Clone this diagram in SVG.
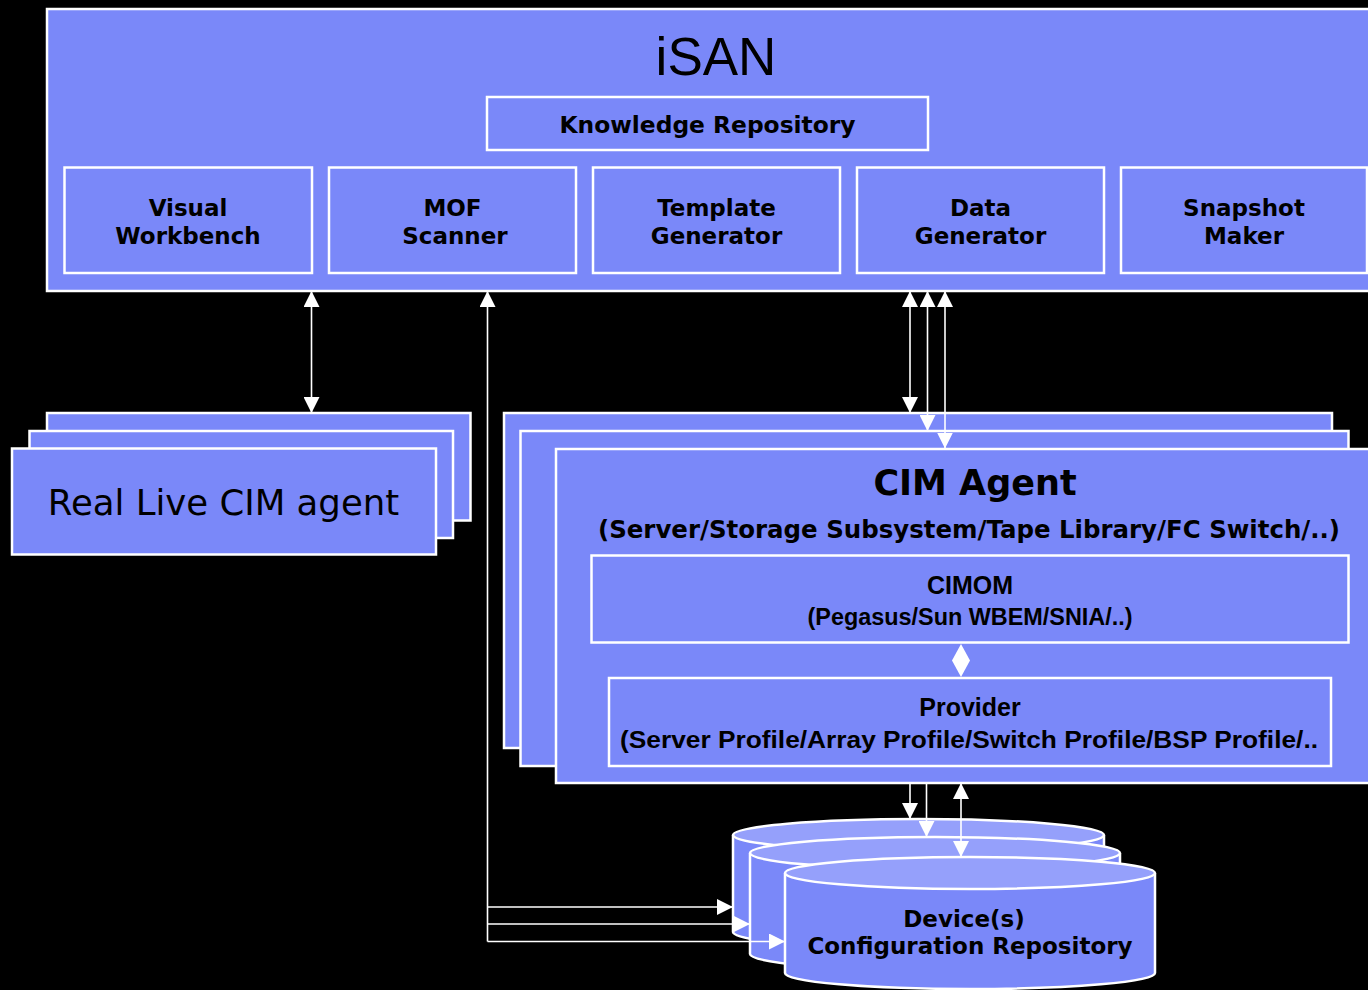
<svg xmlns="http://www.w3.org/2000/svg" width="1368" height="990" viewBox="0 0 1368 990">
<defs>
<style>
.box{fill:#7A88F9;stroke:#fff;stroke-width:2.5}
.cyl{fill:#7A88F9;stroke:#fff;stroke-width:2.5}
.cyltop{fill:#95A0FB;stroke:#fff;stroke-width:2.5}
.v{font-family:"DejaVu Sans",Verdana,sans-serif;font-weight:bold;fill:#000;text-anchor:middle}
.a{font-family:"Liberation Sans",Arial,sans-serif;font-weight:bold;fill:#000;text-anchor:middle}
.c{fill:none;stroke:#fff;stroke-width:1.6}
</style>
<marker id="ah" viewBox="0 0 16 16" refX="16" refY="8" markerWidth="16" markerHeight="16" markerUnits="userSpaceOnUse" orient="auto-start-reverse"><path d="M0,0 L16,8 L0,16 z" fill="#fff"/></marker>
</defs>
<rect x="0" y="0" width="1368" height="990" fill="#000"/>

<g id="isan">
<rect class="box" x="47" y="9" width="1330" height="282"/>
<text x="716" y="75" font-family="Liberation Sans, Arial, sans-serif" font-size="53" text-anchor="middle" fill="#000">iSAN</text>
</g>
<g id="knowledge-repository">
<rect class="box" x="487" y="97" width="441" height="53"/>
<text class="v" x="707.5" y="133" font-size="23" textLength="296" lengthAdjust="spacingAndGlyphs">Knowledge Repository</text>
</g>
<g id="visual-workbench">
<rect class="box" x="64.5" y="167.5" width="247.5" height="105.5"/>
<text class="v" x="188" y="216" font-size="23">Visual</text>
<text class="v" x="188" y="244" font-size="23">Workbench</text>
</g>
<g id="mof-scanner">
<rect class="box" x="329" y="167.5" width="247" height="105.5"/>
<text class="v" x="452.5" y="216" font-size="23">MOF</text>
<text class="v" x="455" y="244" font-size="23">Scanner</text>
</g>
<g id="template-generator">
<rect class="box" x="593" y="167.5" width="247" height="105.5"/>
<text class="v" x="716.5" y="216" font-size="23">Template</text>
<text class="v" x="716.5" y="244" font-size="23">Generator</text>
</g>
<g id="data-generator">
<rect class="box" x="857" y="167.5" width="247" height="105.5"/>
<text class="v" x="980.5" y="216" font-size="23">Data</text>
<text class="v" x="980.5" y="244" font-size="23">Generator</text>
</g>
<g id="snapshot-maker">
<rect class="box" x="1121" y="167.5" width="246" height="105.5"/>
<text class="v" x="1244" y="216" font-size="23">Snapshot</text>
<text class="v" x="1244" y="244" font-size="23">Maker</text>
</g>

<g id="real-live-cim-agent">
<rect class="box" x="47" y="413" width="423.5" height="107.5"/>
<rect class="box" x="29.5" y="431" width="423.5" height="107"/>
<rect class="box" x="12" y="448.5" width="424" height="106"/>
<text x="223.5" y="515" font-family="DejaVu Sans, Verdana, sans-serif" font-size="35.5" text-anchor="middle" fill="#000">Real Live CIM agent</text>
</g>

<g id="cim-agent">
<rect class="box" x="504" y="413" width="828" height="335"/>
<rect class="box" x="520.5" y="431" width="828" height="335"/>
<rect class="box" x="556" y="449" width="820" height="334" stroke-width="3"/>
<text class="v" x="975" y="495" font-size="35">CIM Agent</text>
<text class="v" x="969" y="538" font-size="24" textLength="742" lengthAdjust="spacingAndGlyphs">(Server/Storage Subsystem/Tape Library/FC Switch/..)</text>
</g>
<g id="cimom">
<rect class="box" x="591.5" y="555.5" width="757" height="87"/>
<text class="a" x="970" y="594" font-size="25">CIMOM</text>
<text class="a" x="970" y="625" font-size="23" textLength="325" lengthAdjust="spacingAndGlyphs">(Pegasus/Sun WBEM/SNIA/..)</text>
</g>
<g id="provider">
<rect class="box" x="609" y="678" width="722" height="88"/>
<text class="a" x="970" y="716" font-size="25">Provider</text>
<text class="a" x="969" y="748" font-size="24" textLength="698" lengthAdjust="spacingAndGlyphs">(Server Profile/Array Profile/Switch Profile/BSP Profile/..</text>
</g>

<g id="config-repository">
<path class="cyl" d="M733,835 V932 A185.5,16 0 0 0 1104,932 V835"/>
<ellipse class="cyltop" cx="918.5" cy="835" rx="185.5" ry="16"/>
<path class="cyl" d="M750,853 V954 A185,16 0 0 0 1120,954 V853"/>
<ellipse class="cyltop" cx="935" cy="853" rx="185" ry="16"/>
<path class="cyl" d="M785,873 V973 A185,16 0 0 0 1155,973 V873"/>
<ellipse class="cyltop" cx="970" cy="873" rx="185" ry="16"/>
<text class="v" x="964" y="927" font-size="23">Device(s)</text>
<text class="v" x="970" y="954" font-size="23">Configuration Repository</text>
</g>

<g id="connectors">
<line class="c" x1="311.5" y1="291" x2="311.5" y2="413" marker-start="url(#ah)" marker-end="url(#ah)"/>
<line class="c" x1="910" y1="291" x2="910" y2="413" marker-start="url(#ah)" marker-end="url(#ah)"/>
<line class="c" x1="927.5" y1="291" x2="927.5" y2="431" marker-start="url(#ah)" marker-end="url(#ah)"/>
<line class="c" x1="945" y1="291" x2="945" y2="448.5" marker-start="url(#ah)" marker-end="url(#ah)"/>
<polyline class="c" points="487.5,291 487.5,941.5" marker-start="url(#ah)"/>
<line class="c" x1="487.5" y1="907" x2="733" y2="907" marker-end="url(#ah)"/>
<line class="c" x1="487.5" y1="924" x2="750" y2="924" marker-end="url(#ah)"/>
<line class="c" x1="487.5" y1="941.5" x2="785" y2="941.5" marker-end="url(#ah)"/>
<line class="c" x1="910" y1="783" x2="910" y2="819" marker-end="url(#ah)"/>
<line class="c" x1="926.5" y1="783" x2="926.5" y2="837" marker-end="url(#ah)"/>
<line class="c" x1="961" y1="783" x2="961" y2="857" marker-start="url(#ah)" marker-end="url(#ah)"/>
<path d="M961,644 L970,660.5 L961,677 L952,660.5 z" fill="#fff"/>
</g>
</svg>
